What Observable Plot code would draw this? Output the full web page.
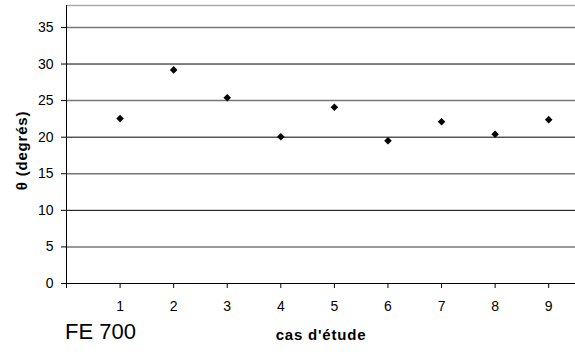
<!DOCTYPE html>
<html><head><meta charset="utf-8">
<script src="https://cdn.jsdelivr.net/npm/d3@7"></script>
<script src="https://cdn.jsdelivr.net/npm/@observablehq/plot@0.6"></script>
<style>
html,body{margin:0;padding:0;background:#fff;}
#chart{position:relative;width:575px;height:354px;}
svg{font-family:"Liberation Sans",Arial,sans-serif;}
g[aria-label="x-axis label"] text{font-weight:bold;font-size:15px;letter-spacing:0.8px;}
#cap{position:absolute;left:65px;top:319px;font-family:"Liberation Sans",Arial,sans-serif;font-size:22px;color:#000;line-height:26px;}
</style></head>
<body><div id="chart"><div id="cap"></div></div>
<script>
const cases = [1,2,3,4,5,6,7,8,9];
const theta = [22.55,29.2,25.4,20.05,24.1,19.5,22.1,20.4,22.4];
const yTicks = [0,5,10,15,20,25,30,35];
const xTicks = [0,1,2,3,4,5,6,7,8,9];
const caption = "FE 700";
const xLabel = "cas d'étude";
const yLabel = "θ (degrés)";

const data = cases.map((c,i)=>({cas:c, theta:theta[i]}));
const chart = Plot.plot({
  width:575, height:354,
  marginLeft:66, marginRight:0, marginTop:5, marginBottom:71,
  style:{fontFamily:"Liberation Sans, Arial, sans-serif", fontSize:"14px", color:"#000", background:"#fff"},
  x:{domain:[0,9.5]},
  y:{domain:[0,38]},
  marks:[
    Plot.ruleY(yTicks.filter(d=>d>0), {stroke:d=>d%10===0?"#000":"#777", strokeWidth:d=>d%10===0?1:1.5}),
    Plot.ruleY([38], {stroke:"#aaa", strokeWidth:1.5}),
    Plot.ruleX([0], {stroke:"#000"}),
    Plot.ruleY([0], {stroke:"#000"}),
    Plot.axisY({ticks:yTicks, tickSize:5, tickPadding:8, fontSize:14, label:null}),
    Plot.text([yLabel], {frameAnchor:"left", dx:-44, dy:6, rotate:-90, fontSize:15, fontWeight:"bold", fill:"#000", textAnchor:"middle", lineAnchor:"middle"}),
    Plot.axisX({ticks:xTicks, tickSize:5, tickPadding:13, fontSize:14, tickFormat:d=>d===0?"":String(d), label:xLabel, labelAnchor:"center", labelArrow:"none", labelOffset:56}),
    Plot.dot(data, {x:"cas", y:"theta", symbol:"diamond2", r:3.4, fill:"#000", stroke:"none"})
  ]
});
document.getElementById("chart").prepend(chart);
document.getElementById("cap").textContent = caption;
chart.querySelectorAll('g[aria-label="text"] text').forEach(t=>t.setAttribute("letter-spacing","0.8"));
</script>
</body></html>
